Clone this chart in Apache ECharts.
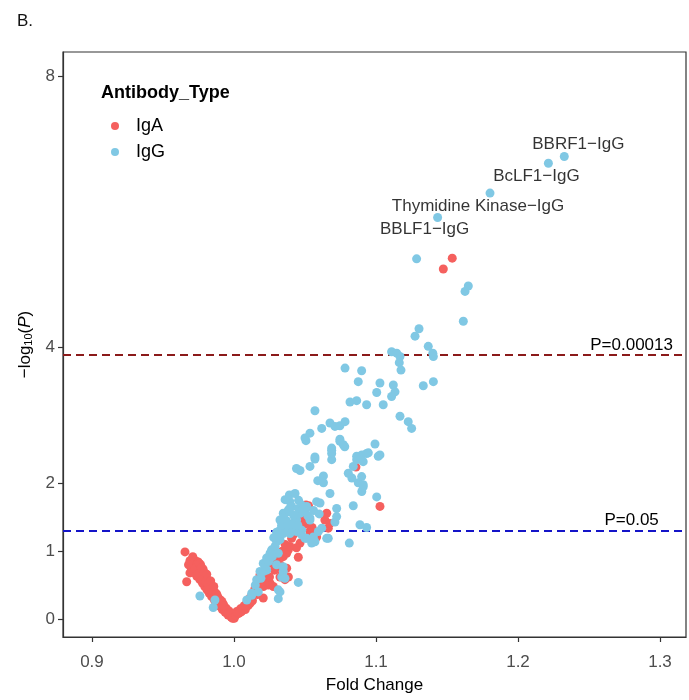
<!DOCTYPE html>
<html>
<head>
<meta charset="utf-8">
<script src="https://cdn.jsdelivr.net/npm/echarts@6/dist/echarts.min.js"></script>
<style>
  html, body { margin: 0; padding: 0; background: #fff; }
  #main { width: 689px; height: 700px; }
</style>
</head>
<body>
<div id="main"></div>
<script>
// fold change / -log10(P)
var igaPoints = [
  [0.9655,0.99],[0.9667,0.55],[0.9690,0.86],[0.9695,0.78],[0.9700,0.72],[0.9705,0.88],[0.9712,0.82],[0.9718,0.75],
  [0.9722,0.68],[0.9728,0.86],[0.9735,0.79],[0.9738,0.63],[0.9742,0.71],[0.9748,0.84],[0.9752,0.76],[0.9756,0.66],
  [0.9760,0.58],[0.9765,0.80],[0.9768,0.70],[0.9772,0.62],[0.9778,0.53],[0.9782,0.74],[0.9786,0.66],[0.9790,0.57],
  [0.9794,0.48],[0.9800,0.62],[0.9805,0.52],[0.9810,0.43],[0.9815,0.58],[0.9820,0.47],[0.9826,0.38],[0.9832,0.50],
  [0.9838,0.41],[0.9843,0.33],[0.9850,0.45],[0.9856,0.36],[0.9862,0.28],[0.9868,0.39],[0.9874,0.30],[0.9880,0.23],
  [0.9886,0.33],[0.9892,0.25],[0.9898,0.19],[0.9905,0.28],[0.9912,0.20],[0.9918,0.14],[0.9925,0.22],[0.9932,0.15],
  [0.9938,0.10],[0.9945,0.16],[0.9952,0.10],[0.9958,0.06],[0.9965,0.12],[0.9972,0.06],[0.9980,0.03],[0.9988,0.04],
  [0.9995,0.02],[1.0002,0.01],
  [0.9680,0.80],[0.9690,0.68],[0.9710,0.92],[0.9725,0.74],[0.9745,0.66],[0.9755,0.82],[0.9770,0.75],[0.9775,0.58],
  [0.9790,0.69],[0.9798,0.55],[0.9808,0.66],[0.9818,0.52],[0.9828,0.44],[0.9836,0.56],[0.9846,0.40],[0.9858,0.48],
  [0.9866,0.33],[0.9878,0.37],[0.9890,0.29],[0.9900,0.24],[0.9915,0.26],[0.9930,0.19],[0.9950,0.13],[0.9960,0.09],
  [0.9975,0.08],[0.9990,0.01],
  [1.0010,0.05],[1.0019,0.11],[1.0030,0.08],[1.0045,0.15],[1.0054,0.11],[1.0066,0.18],[1.0080,0.14],[1.0090,0.23],
  [1.0100,0.20],[1.0113,0.23],[1.0113,0.31],[1.0130,0.27],[1.0148,0.45],[1.0160,0.48],[1.0165,0.36],[1.0183,0.65],
  [1.0195,0.53],[1.0206,0.31],[1.0207,0.48],[1.0230,0.60],[1.0242,0.50],[1.0254,0.53],[1.0265,0.82],[1.0277,0.48],
  [1.0300,0.85],[1.0324,0.80],[1.0324,0.62],[1.0336,0.70],[1.0347,0.92],[1.0359,0.58],[1.0371,0.97],[1.0371,0.75],
  [1.0383,1.02],[1.0383,0.62],[1.0394,1.07],[1.0394,1.29],[1.0406,1.19],[1.0453,0.91],[1.0465,1.12],[1.0465,1.31],
  [1.0477,1.49],[1.0507,1.68],[1.0525,1.67],[1.0535,1.29],[1.0559,1.26],[1.0582,1.21],[1.0640,1.46],[1.0653,1.56],
  [1.0664,1.34],[1.0676,1.41],
  [1.0040,0.09],[1.0075,0.20],[1.0105,0.26],[1.0140,0.40],[1.0175,0.55],[1.0215,0.56],[1.0250,0.62],[1.0285,0.72],
  [1.0310,0.90],[1.0340,1.00],[1.0360,1.10],[1.0420,1.25],[1.0440,1.05],[1.0500,1.40],[1.0550,1.35],
  [1.0859,2.24],[1.1028,1.66],[1.1474,5.16],[1.1537,5.32]
];

var iggPoints = [
  [0.9760,0.34],[0.9854,0.17],[0.9866,0.28],
  [1.0090,0.28],[1.0125,0.35],[1.0125,0.38],[1.0160,0.58],[1.0171,0.40],[1.0183,0.70],[1.0206,0.70],[1.0206,0.82],
  [1.0230,0.72],[1.0230,0.90],[1.0254,0.97],[1.0265,1.02],[1.0289,1.07],[1.0300,1.14],[1.0300,0.80],[1.0312,0.97],
  [1.0312,0.43],[1.0312,0.30],[1.0324,0.40],[1.0324,1.17],[1.0324,1.31],[1.0324,1.46],[1.0336,0.62],[1.0347,0.70],
  [1.0347,1.26],[1.0347,1.56],[1.0347,0.77],[1.0359,0.60],[1.0359,1.41],[1.0371,1.31],[1.0383,1.34],[1.0383,1.61],
  [1.0394,1.26],[1.0394,1.73],[1.0406,1.66],[1.0418,1.31],[1.0430,1.49],[1.0441,1.29],[1.0441,1.46],[1.0453,0.54],
  [1.0465,1.56],[1.0453,1.63],[1.0477,1.68],[1.0477,1.24],[1.0477,1.31],[1.0500,1.19],[1.0500,1.58],[1.0512,1.19],
  [1.0512,1.66],[1.0535,1.49],[1.0535,1.46],[1.0547,1.12],[1.0559,1.21],[1.0570,1.14],[1.0582,1.73],[1.0594,1.29],
  [1.0606,1.71],[1.0618,1.34],[1.0653,1.19],[1.0664,1.19],[1.0711,1.43],[1.0723,1.51],[1.0723,1.63],[1.0812,1.12],
  [1.0887,1.39],[1.0934,1.35],[1.0360,1.76],[1.0390,1.83],[1.0430,1.85],[1.0394,1.63],[1.0380,1.58],[1.0420,1.53],
  [1.0150,0.50],[1.0190,0.60],[1.0220,0.78],[1.0245,0.85],[1.0270,0.92],[1.0280,1.20],[1.0300,1.28],[1.0335,1.38],
  [1.0350,1.50],[1.0370,1.45],[1.0410,1.40],[1.0455,1.75],[1.0490,1.62],[1.0520,1.52],[1.0560,1.60],[1.0600,1.55],
  [1.0450,1.38],
  [1.0676,1.85],[1.0840,1.67],[1.0900,1.88],[1.0910,1.95],[1.0875,2.01],[1.0830,2.08],[1.0805,2.15],[1.1005,1.80],
  [1.0590,2.04],[1.0630,2.11],[1.0630,2.01],[1.0440,2.22],[1.0465,2.19],[1.0535,2.25],[1.0570,2.36],[1.0570,2.39],
  [1.0688,2.49],[1.0688,2.35],[1.0688,2.44],[1.0688,2.52],[1.0507,2.63],[1.0500,2.67],[1.0535,2.74],[1.0618,2.81],
  [1.0676,2.89],[1.0711,2.84],[1.0746,2.85],[1.0782,2.91],[1.0746,2.62],[1.0746,2.65],[1.0770,2.57],[1.0780,2.54],
  [1.0993,2.58],[1.0864,2.40],[1.0900,2.42],[1.0934,2.44],[1.1028,2.42],[1.0910,2.32],[1.0864,2.35],[1.0887,2.37],
  [1.0946,2.45],[1.1016,2.40],[1.0899,2.10],[1.0910,1.98],[1.0840,2.25],[1.0570,3.07],
  [1.0782,3.70],[1.0899,3.66],[1.0875,3.50],[1.1028,3.48],[1.1005,3.34],[1.1122,3.45],[1.1134,3.35],[1.1110,3.28],
  [1.0817,3.20],[1.0864,3.22],[1.0934,3.16],[1.1051,3.16],[1.1169,2.99],[1.1227,2.91],[1.1251,2.81],[1.1404,3.50],
  [1.1333,3.44],[1.1110,3.94],[1.1146,3.92],[1.1169,3.87],[1.1164,3.78],[1.1176,3.67],[1.1368,4.02],[1.1400,3.92],
  [1.1404,3.87],[1.1303,4.28],[1.1275,4.17],[1.1615,4.39],[1.1627,4.83],[1.1650,4.91],[1.1286,5.31],[1.1434,5.92],
  [1.1803,6.28],[1.2214,6.72],[1.2326,6.82]
];

// labelled antigens
var hitNames = ['BBRF1−IgG', 'BcLF1−IgG', 'Thymidine Kinase−IgG', 'BBLF1−IgG'];
var hitValues = [[1.2326,6.82],[1.2214,6.72],[1.1803,6.28],[1.1434,5.92]];

var pCutoffs = [0.00013, 0.05];
var cutoffLabels = ['P=0.00013', 'P=0.05'];
var xTicks = [0.9, 1.0, 1.1, 1.2, 1.3];
var yTicks = [0, 1, 2, 4, 8];

var labelOffsets = [[14, -12], [-12, 13], [-12, 13], [-13, 12]];
var cutoffColors = ['#8B1A1A', '#1414C8'];

var myChart = echarts.init(document.getElementById('main'));

var hitData = hitNames.map(function (n, i) {
  return {
    name: n,
    value: hitValues[i],
    label: { offset: labelOffsets[i] }
  };
});

var markLines = pCutoffs.map(function (p, i) {
  return {
    yAxis: -Math.log10(p),
    lineStyle: { color: cutoffColors[i], type: [8, 5], width: 2 }
  };
});
var markPoints = pCutoffs.map(function (p, i) {
  return { name: cutoffLabels[i], coord: [1.28, -Math.log10(p)] };
});

var option = {
  animation: false,
  textStyle: { fontFamily: 'Liberation Sans, Arial, sans-serif' },
  title: [
    { text: 'B.', left: 12, top: 8, textStyle: { fontSize: 17, fontWeight: 'normal', color: '#111' } },
    { text: 'Antibody_Type', left: 96, top: 79, textStyle: { fontSize: 18, fontWeight: 'bold', color: '#000' } }
  ],
  legend: {
    data: ['IgA', 'IgG'],
    orient: 'vertical',
    left: 106,
    top: 112,
    icon: 'circle',
    itemWidth: 8,
    itemHeight: 8,
    itemGap: 8,
    textStyle: { fontSize: 18, lineHeight: 18, color: '#000', padding: [0, 0, 0, 12] }
  },
  grid: {
    left: 63, right: 3, top: 52, bottom: 63,
    show: true, borderColor: '#333', borderWidth: 1.2
  },
  xAxis: {
    type: 'value',
    min: 0.8796,
    max: 1.3183,
    name: 'Fold Change',
    nameLocation: 'middle',
    nameGap: 40,
    nameTextStyle: { fontSize: 17, color: '#000' },
    axisLine: { show: true, onZero: false, lineStyle: { color: '#333', width: 1.2 } },
    axisTick: { show: true, length: 5, customValues: xTicks, lineStyle: { color: '#333', width: 1.2 } },
    axisLabel: {
      customValues: xTicks, margin: 17, fontSize: 17, color: '#4D4D4D',
      formatter: function (v) { return v.toFixed(1); }
    },
    splitLine: { show: false }
  },
  yAxis: {
    type: 'value',
    min: -0.265,
    max: 8.36,
    name: '−log{sub|10}({it|P})',
    nameLocation: 'middle',
    nameGap: 27,
    nameTextStyle: {
      fontSize: 17, color: '#000',
      rich: {
        sub: { fontSize: 11, padding: [7, 0, 0, 0] },
        it: { fontSize: 17, fontStyle: 'italic' }
      }
    },
    axisLine: { show: true, onZero: false, lineStyle: { color: '#333', width: 1.2 } },
    axisTick: { show: true, length: 5, customValues: yTicks, lineStyle: { color: '#333', width: 1.2 } },
    axisLabel: { customValues: yTicks, margin: 8, fontSize: 17, color: '#4D4D4D' },
    splitLine: { show: false }
  },
  series: [
    {
      name: 'IgA',
      type: 'scatter',
      symbolSize: 9,
      itemStyle: { color: '#F5605E', opacity: 1 },
      data: igaPoints,
      z: 3
    },
    {
      name: 'IgG',
      type: 'scatter',
      symbolSize: 9,
      itemStyle: { color: '#80C8E4', opacity: 1 },
      data: iggPoints,
      z: 4
    },
    {
      name: 'hits',
      type: 'scatter',
      symbolSize: 0,
      silent: true,
      data: hitData,
      label: {
        show: true,
        position: 'inside',
        formatter: '{b}',
        fontSize: 17,
        color: '#000'
      },
      z: 6
    },
    {
      name: 'cutoffs',
      type: 'scatter',
      data: [],
      silent: true,
      markLine: {
        silent: true,
        symbol: 'none',
        label: { show: false },
        data: markLines,
        z: 2
      },
      markPoint: {
        symbol: 'circle',
        symbolSize: 0,
        silent: true,
        label: { show: true, position: 'top', distance: 2, formatter: '{b}', fontSize: 17, color: '#000' },
        data: markPoints
      }
    }
  ]
};

myChart.setOption(option);
</script>
</body>
</html>
